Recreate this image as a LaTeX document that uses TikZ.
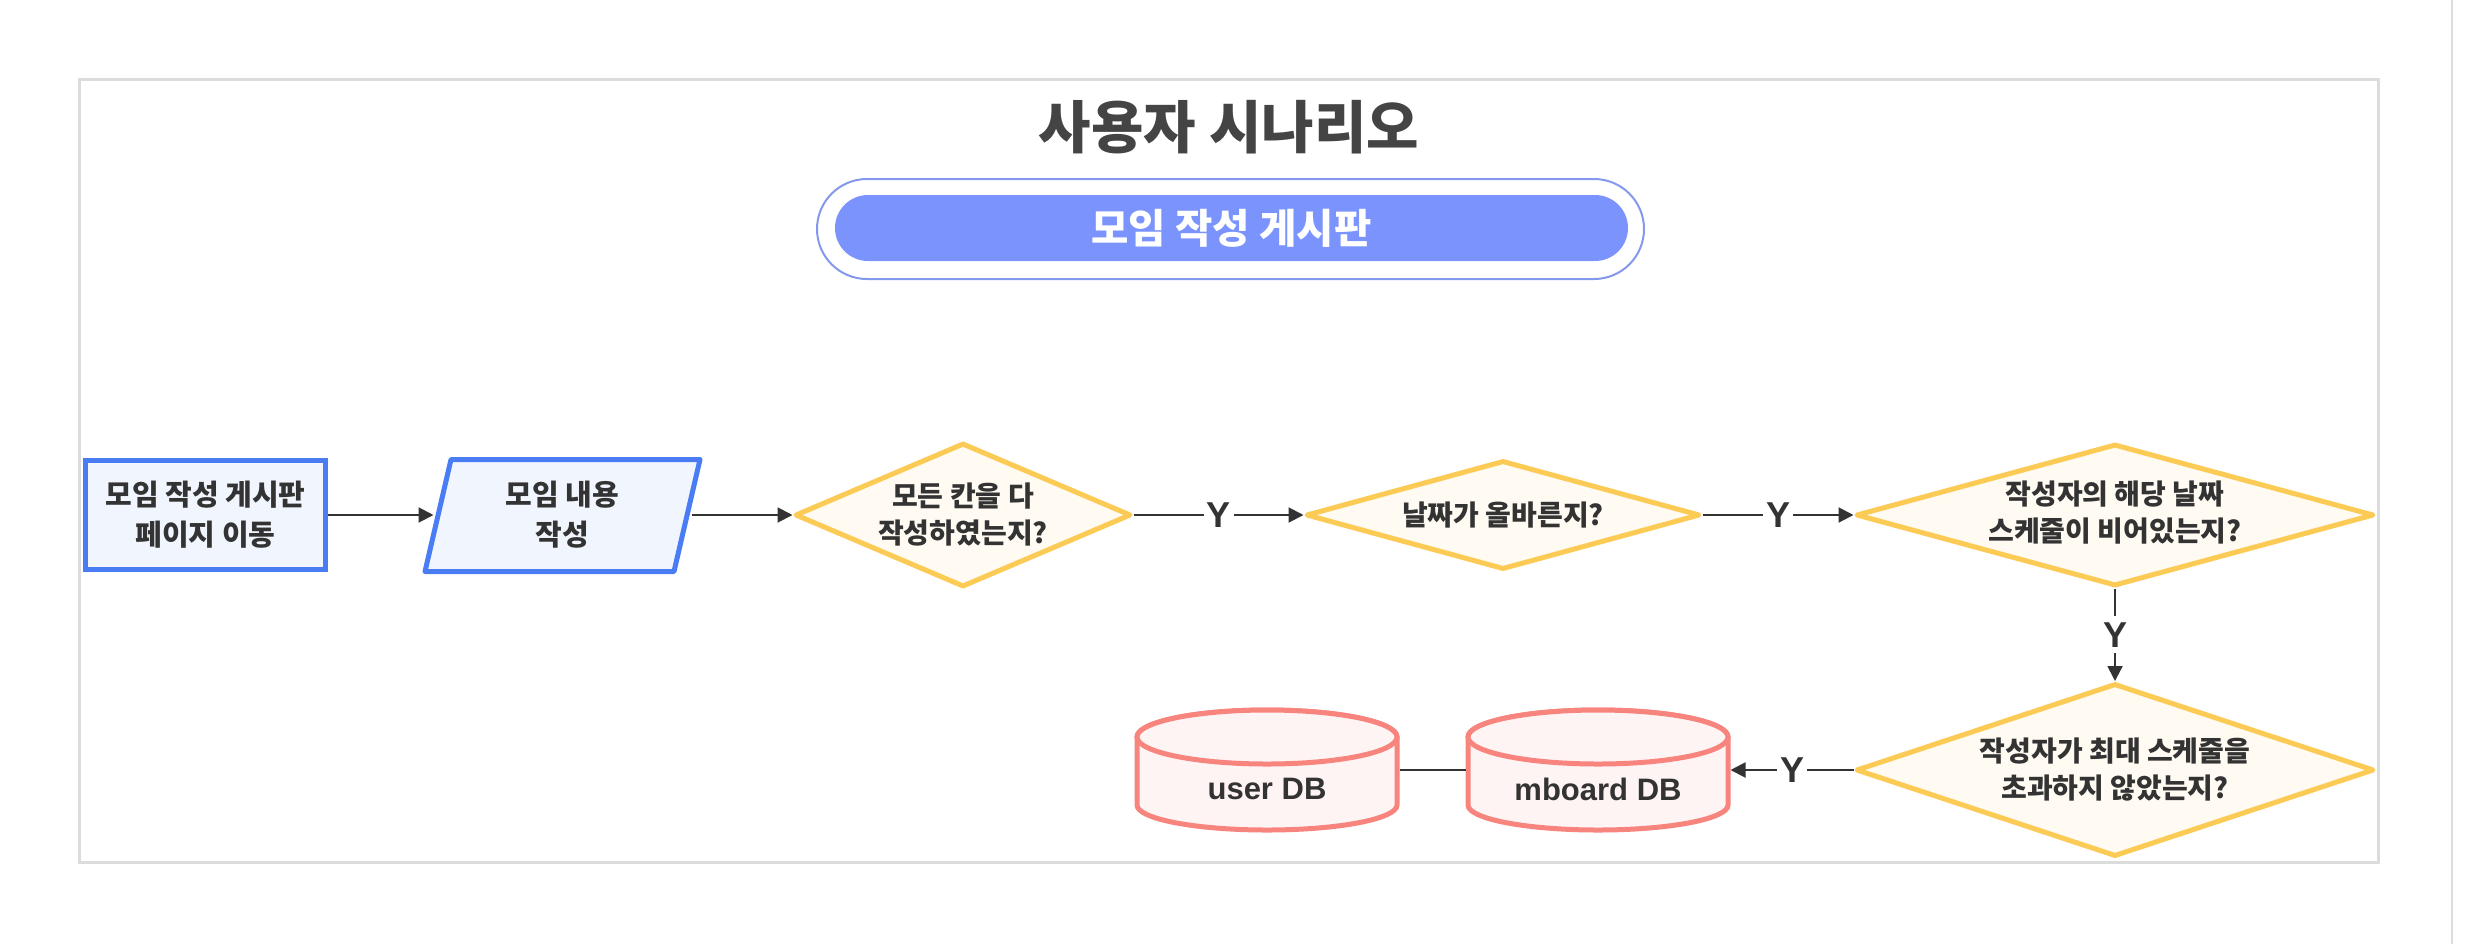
\documentclass[tikz,border=0pt]{standalone}
\usepackage{fontspec}
\setmainfont{Noto Sans CJK KR}
\newfontfamily\latinsf{Liberation Sans}
\usetikzlibrary{shapes.geometric, arrows.meta}
\definecolor{txt}{HTML}{333333}
\definecolor{titlec}{HTML}{444444}
\definecolor{boxblue}{HTML}{4A7DF4}
\definecolor{boxfill}{HTML}{F1F5FE}
\definecolor{decline}{HTML}{FCCB55}
\definecolor{decfill}{HTML}{FFFAF2}
\definecolor{dbline}{HTML}{F8847E}
\definecolor{dbfill}{HTML}{FFF4F4}
\definecolor{pillfill}{HTML}{7B94FD}
\definecolor{pillline}{HTML}{8599EC}
\definecolor{framec}{HTML}{DCDCDC}
\tikzset{
  nodetext/.style={font=\fontsize{14}{18.5}\selectfont\bfseries, text=txt, align=center},
  procbox/.style={draw=boxblue, fill=boxfill, line width=2.5pt, rectangle, inner sep=0pt,
    nodetext, font=\fontsize{14.5}{20}\selectfont\bfseries},
  decbox/.style={draw=decline, fill=decfill, line width=2.5pt, diamond, line join=round, inner sep=0pt},
  dectext/.style={nodetext, inner sep=0pt},
  dbstyle/.style={draw=dbline, fill=dbfill, line width=2.5pt},
  dbnode/.style={inner sep=0pt, outer sep=1.25pt, minimum width=130pt, minimum height=58pt},
  dblabel/.style={font=\latinsf\fontsize{15.5}{17}\selectfont\bfseries, text=txt},
  conn/.style={draw=txt, line width=1pt, -{Triangle[length=7.5pt,width=7.5pt]}},
  plainconn/.style={draw=txt, line width=1pt},
  ylab/.style={font=\latinsf\fontsize{18}{20}\selectfont\bfseries, text=txt, fill=white, inner sep=1.5pt}
}
\newcommand\dbcylinder[1]{%
  \path[dbstyle] ({#1-130},737) -- ({#1-130},805)
     arc[start angle=180, end angle=360, x radius=65pt, y radius=12.5pt]
     -- ({#1+130},737)
     arc[start angle=0, end angle=180, x radius=65pt, y radius=13.5pt] -- cycle;
  \path[dbstyle] (#1,737) ellipse[x radius=65pt, y radius=13.5pt];
}
\begin{document}
\begin{tikzpicture}[x=0.5pt, y=-0.5pt]
\useasboundingbox (0,0) rectangle (2468,944);
\fill[white] (0,0) rectangle (2468,944);
% frame
\draw[framec, line width=1.5pt] (79,79) rectangle (2378,862);
\draw[framec, line width=1pt] (2452,0) -- (2452,944);
% title
\node[font=\fontsize{28.5}{32}\selectfont\bfseries, text=titlec] (title) at (1229,127) {사용자 시나리오};
% pill
\node[draw=pillline, line width=1pt, rectangle, rounded corners=25pt, minimum width=413.5pt, minimum height=50pt] (pillout) at (1230.5,229) {};
\node[fill=pillfill, rectangle, rounded corners=16.5pt, minimum width=396.5pt, minimum height=33pt,
      text=white, font=\fontsize{20.3}{23}\selectfont\bfseries] (pill) at (1231.5,228) {모임 작성 게시판};
% process box
\node[procbox, minimum width=120pt, minimum height=54.5pt] (b1) at (205.5,515) {모임 작성 게시판\\페이지 이동};
% parallelogram
\path[draw=boxblue, fill=boxfill, line width=2.5pt, line join=round]
  (451,459.5) -- (700,459.5) -- (674,571.5) -- (425,571.5) -- cycle;
\node[procbox, draw=none, fill=none, minimum width=126.5pt, minimum height=56pt] (p2) at (562.5,515) {모임 내용\\작성};
% decisions
\node[decbox, minimum width=168pt, minimum height=72pt,
      label={[dectext]center:{모든 칸을 다\\작성하였는지?}}] (d1) at (963,515) {};
\node[decbox, minimum width=197pt, minimum height=54.5pt,
      label={[dectext]center:{날짜가 올바른지?}}] (d2) at (1503,515) {};
\node[decbox, minimum width=259pt, minimum height=71pt,
      label={[dectext, yshift=1pt]center:{작성자의 해당 날짜\\스케줄이 비어있는지?}}] (d3) at (2115,515) {};
\node[decbox, minimum width=259pt, minimum height=86.5pt,
      label={[dectext]center:{작성자가 최대 스케줄을\\초과하지 않았는지?}}] (d4) at (2115,770) {};
% databases
\dbcylinder{1267}
\dbcylinder{1598}
\node[dbnode, label={[dblabel, yshift=-9.5pt]center:user DB}] (udb) at (1267,770) {};
\node[dbnode, label={[dblabel, yshift=-9.5pt]center:mboard DB}] (mdb) at (1598,770) {};
% connectors
\draw[conn] (b1.east) -- (p2.west);
\draw[conn] (p2.east) -- (d1.west);
\draw[conn] (d1.east) -- node[ylab] {Y} (d2.west);
\draw[conn] (d2.east) -- node[ylab] {Y} (d3.west);
\draw[conn] (d3.south) -- node[ylab, inner sep=3pt] {Y} (d4.north);
\draw[conn] (d4.west) -- node[ylab] {Y} (mdb.east);
\draw[plainconn] (udb.east) -- (mdb.west);
\end{tikzpicture}
\end{document}
